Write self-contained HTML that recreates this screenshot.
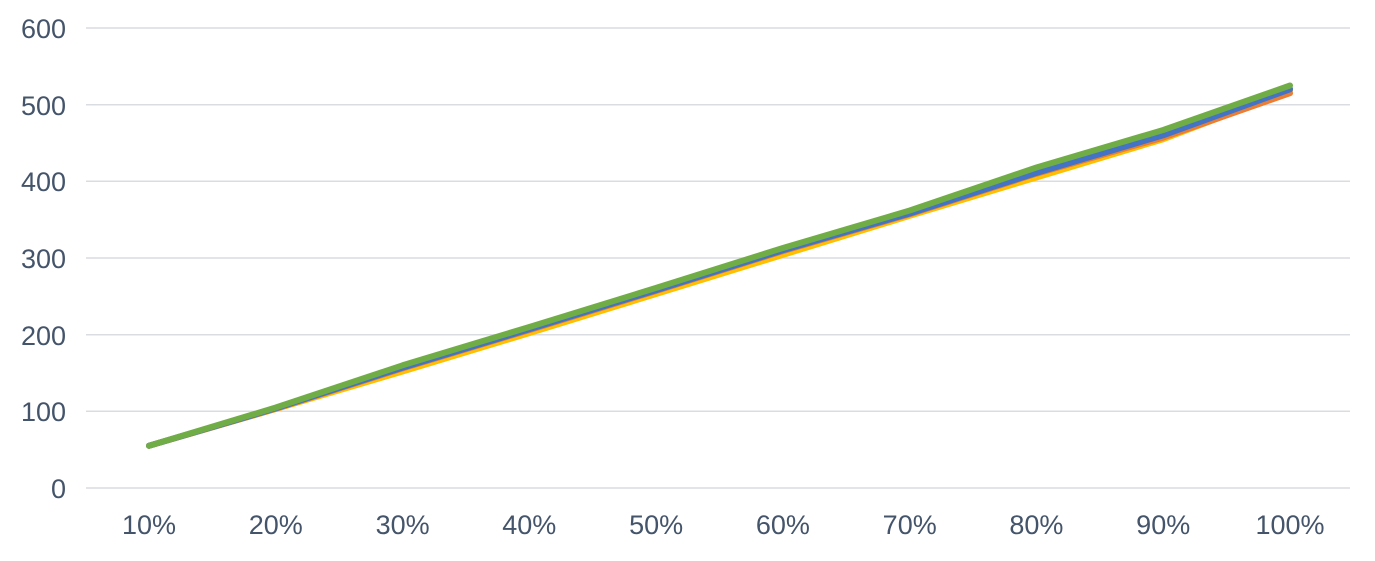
<!DOCTYPE html>
<html><head><meta charset="utf-8"><style>
html,body{margin:0;padding:0;background:#fff;}
svg{display:block;font-family:"Liberation Sans",sans-serif;}
</style></head><body>
<svg width="1375" height="561" viewBox="0 0 1375 561">
<g stroke="#d9dce1" stroke-width="1.5">
<line x1="86" x2="1350" y1="28" y2="28"/>
<line x1="86" x2="1350" y1="104.7" y2="104.7"/>
<line x1="86" x2="1350" y1="181.3" y2="181.3"/>
<line x1="86" x2="1350" y1="258" y2="258"/>
<line x1="86" x2="1350" y1="334.7" y2="334.7"/>
<line x1="86" x2="1350" y1="411.3" y2="411.3"/>
<line x1="86" x2="1350" y1="488" y2="488"/>
</g>
<g fill="#44546a" font-size="27" text-anchor="end">
<text x="66" y="38">600</text>
<text x="66" y="115">500</text>
<text x="66" y="191">400</text>
<text x="66" y="268">300</text>
<text x="66" y="345">200</text>
<text x="66" y="421">100</text>
<text x="66" y="498">0</text>
</g>
<g fill="#44546a" font-size="27" text-anchor="middle">
<text x="149" y="534">10%</text>
<text x="275.8" y="534">20%</text>
<text x="402.6" y="534">30%</text>
<text x="529.3" y="534">40%</text>
<text x="656.1" y="534">50%</text>
<text x="782.9" y="534">60%</text>
<text x="909.7" y="534">70%</text>
<text x="1036.4" y="534">80%</text>
<text x="1163.2" y="534">90%</text>
<text x="1290" y="534">100%</text>
</g>
<g fill="none" stroke-linejoin="round" stroke-linecap="round">
<polyline stroke="#ffc000" stroke-width="6" points="149,445.8 275.8,409 402.6,371.5 529.3,333.1 656.1,294 782.9,254.9 909.7,215.8 1036.4,177.5 1163.2,139.2 1290,90.9"/>
<polyline stroke="#ed7d31" stroke-width="6" points="149,445.8 275.8,408.8 402.6,368.4 529.3,330.1 656.1,291 782.9,251.1 909.7,214.3 1036.4,173.7 1163.2,137.6 1290,93.2"/>
<polyline stroke="#a5a5a5" stroke-width="6" points="149,445.8 275.8,408.3 402.6,367.2 529.3,329 656.1,289.7 782.9,250 909.7,212.8 1036.4,172 1163.2,134.5 1290,88.5"/>
<polyline stroke="#4472c4" stroke-width="6" points="149,445.8 275.8,408.3 402.6,367.6 529.3,329.3 656.1,290.2 782.9,250.3 909.7,213.5 1036.4,172.9 1163.2,135.3 1290,89.3"/>
<polyline stroke="#70ad47" stroke-width="6" points="149,445.8 275.8,407.5 402.6,365.3 529.3,327 656.1,287.9 782.9,248 909.7,210.5 1036.4,167.5 1163.2,130 1290,85.5"/>
</g>
</svg>
</body></html>
